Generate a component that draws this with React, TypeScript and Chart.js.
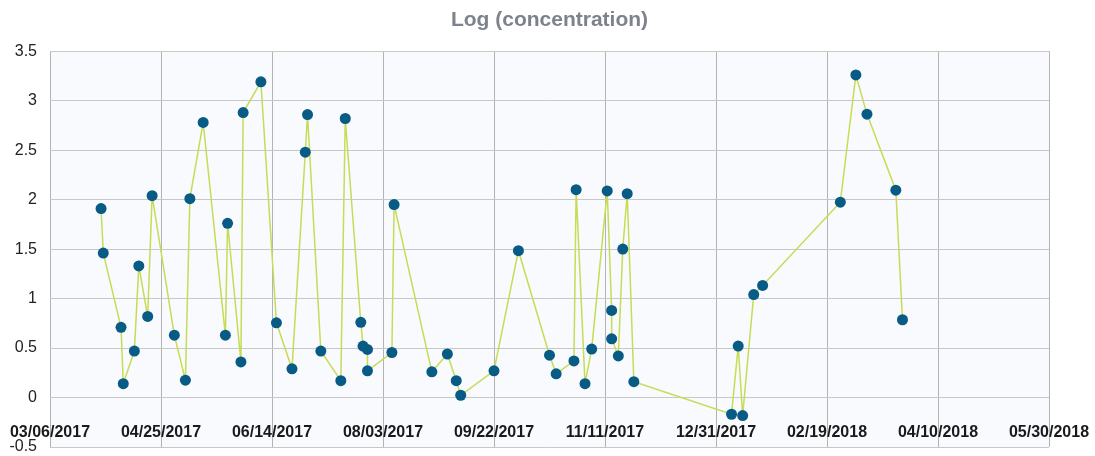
import React, { useEffect, useRef } from "react";
import { Chart, registerables } from "chart.js";

Chart.register(...registerables);

const startDate = "2017-03-06";
const tickStepDays = 50;
const axisSpanDays = 450;

const sampleDates = [
  "2017-03-29", "2017-03-30", "2017-04-07", "2017-04-08", "2017-04-13", "2017-04-15",
  "2017-04-19", "2017-04-21", "2017-05-01", "2017-05-06", "2017-05-08", "2017-05-14",
  "2017-05-24", "2017-05-25", "2017-05-31", "2017-06-01", "2017-06-09", "2017-06-16",
  "2017-06-23", "2017-06-29", "2017-06-30", "2017-07-06", "2017-07-15", "2017-07-17",
  "2017-07-24", "2017-07-25", "2017-07-27", "2017-07-27", "2017-08-07", "2017-08-08",
  "2017-08-25", "2017-09-01", "2017-09-05", "2017-09-07", "2017-09-22", "2017-10-03",
  "2017-10-17", "2017-10-20", "2017-10-28", "2017-10-29", "2017-11-02", "2017-11-05",
  "2017-11-12", "2017-11-14", "2017-11-14", "2017-11-17", "2017-11-19", "2017-11-21",
  "2017-11-24", "2018-01-07", "2018-01-10", "2018-01-12", "2018-01-17", "2018-01-21",
  "2018-02-25", "2018-03-04", "2018-03-09", "2018-03-22", "2018-03-25",
];

const logConcentration = [
  1.91, 1.46, 0.71, 0.14, 0.47, 1.33,
  0.82, 2.04, 0.63, 0.175, 2.01, 2.78,
  0.63, 1.76, 0.36, 2.88, 3.19, 0.755,
  0.29, 2.48, 2.86, 0.47, 0.17, 2.82,
  0.76, 0.52, 0.486, 0.27, 0.455, 1.95,
  0.26, 0.44, 0.17, 0.023, 0.27, 1.484,
  0.428, 0.24, 0.37, 2.1, 0.14, 0.49,
  2.088, 0.88, 0.593, 0.42, 1.5, 2.06,
  0.16, -0.169, 0.52, -0.182, 1.04, 1.133,
  1.974, 3.26, 2.864, 2.095, 0.786,
];

const yTickValues = [-0.5, 0, 0.5, 1, 1.5, 2, 2.5, 3, 3.5];

const DAY_MS = 86400000;
const toUTC = (s: string) => {
  const [y, m, d] = s.split("-").map(Number);
  return Date.UTC(y, m - 1, d);
};
const startMs = toUTC(startDate);
const dayOffset = (s: string) => Math.round((toUTC(s) - startMs) / DAY_MS);
const formatDate = (offset: number) => {
  const dt = new Date(startMs + offset * DAY_MS);
  const mm = String(dt.getUTCMonth() + 1).padStart(2, "0");
  const dd = String(dt.getUTCDate()).padStart(2, "0");
  return `${mm}/${dd}/${dt.getUTCFullYear()}`;
};

const plotBackground = {
  id: "plotBackground",
  beforeDraw(chart: any) {
    const { ctx, chartArea } = chart;
    if (!chartArea) return;
    ctx.save();
    ctx.fillStyle = "#f9fafd";
    ctx.fillRect(chartArea.left, chartArea.top, chartArea.right - chartArea.left, chartArea.bottom - chartArea.top);
    ctx.restore();
  },
};

const FONT = "Arial, 'Liberation Sans', Helvetica, sans-serif";

export default function App() {
  const canvasRef = useRef<HTMLCanvasElement | null>(null);

  useEffect(() => {
    if (!canvasRef.current) return;
    const points = sampleDates.map((d, i) => ({ x: dayOffset(d), y: logConcentration[i] }));
    const chart = new Chart(canvasRef.current, {
      type: "line",
      data: {
        datasets: [
          {
            label: "Log (concentration)",
            data: points,
            borderColor: "#c6dc55",
            borderWidth: 1.5,
            backgroundColor: "#075b84",
            pointBackgroundColor: "#075b84",
            pointBorderColor: "#075b84",
            pointBorderWidth: 0,
            pointRadius: 5.5,
            tension: 0,
            fill: false,
          },
        ],
      },
      plugins: [plotBackground],
      options: {
        animation: false,
        responsive: true,
        maintainAspectRatio: false,
        layout: { padding: { left: 0, right: 46, top: 0, bottom: 9 } },
        plugins: {
          legend: { display: false },
          tooltip: { enabled: false },
          title: {
            display: true,
            text: "Log (concentration)",
            fullSize: false,
            color: "#7d828c",
            font: { family: FONT, size: 21, weight: "bold" },
            padding: { top: 8, bottom: 18 },
          },
        },
        scales: {
          x: {
            type: "linear",
            position: { y: -0.26 } as any,
            min: 0,
            max: axisSpanDays,
            border: { display: false },
            grid: { color: "#b3b3b3", lineWidth: 1, drawTicks: false },
            ticks: {
              stepSize: tickStepDays,
              autoSkip: false,
              maxRotation: 0,
              padding: 0,
              color: "#1a1a1a",
              font: { family: FONT, size: 16, weight: "bold" },
              callback: (v: any) => formatDate(Number(v)),
            },
          },
          y: {
            type: "linear",
            min: -0.5,
            max: 3.5,
            border: { display: false },
            grid: { color: "#c8c8c8", lineWidth: 1, drawTicks: false },
            afterBuildTicks: (scale: any) => {
              scale.ticks = yTickValues.map((v) => ({ value: v }));
            },
            afterFit: (scale: any) => {
              scale.width = 50;
              scale.paddingTop = 0;
              scale.paddingBottom = 0;
            },
            ticks: {
              padding: 13,
              color: "#222222",
              font: { family: FONT, size: 16 },
              callback: (v: any) => String(v),
            },
          },
        },
      },
    });
    return () => chart.destroy();
  }, []);

  return (
    <div style={{ position: "absolute", left: 0, top: 0, width: 1095, height: 456 }}>
      <canvas ref={canvasRef} />
    </div>
  );
}
